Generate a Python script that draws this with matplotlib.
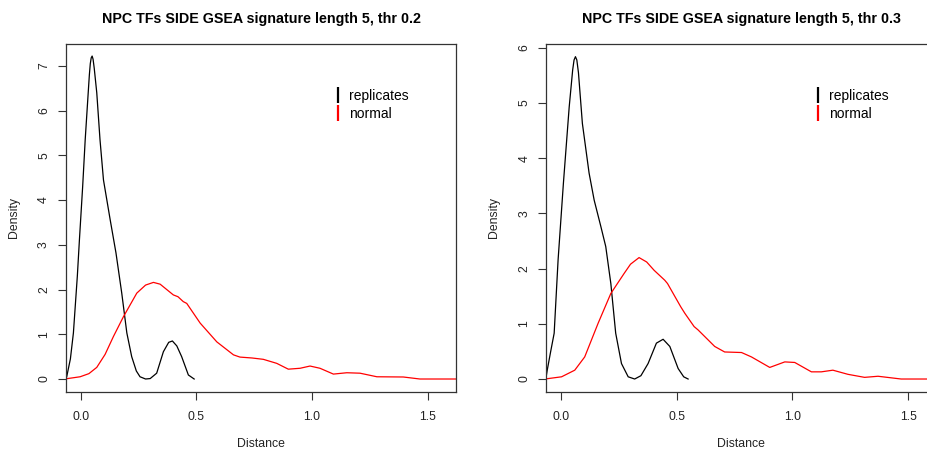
import matplotlib
matplotlib.use('Agg')
import matplotlib.pyplot as plt
from matplotlib.lines import Line2D

plt.rcParams['font.family'] = ['Liberation Sans', 'DejaVu Sans']

# 데이터 (그림에서 읽은 밀도 곡선 값)
titles = ['NPC TFs SIDE GSEA signature length 5, thr 0.2',
          'NPC TFs SIDE GSEA signature length 5, thr 0.3']
legend_labels = ['replicates', 'normal']

rep02_x = [-0.07, -0.061, -0.045, -0.032, -0.015, -0.006, 0.008, 0.019, 0.032, 0.037, 0.041,
           0.045, 0.049, 0.053, 0.058, 0.069, 0.083, 0.098, 0.127, 0.152, 0.177, 0.199, 0.22,
           0.24, 0.256, 0.28, 0.30, 0.328, 0.357, 0.38, 0.396, 0.415, 0.436,
           0.465, 0.49]
rep02_y = [-0.1, 0.05, 0.45, 1.03, 2.3, 3.11, 4.3, 5.35, 6.4, 6.8, 7.05,
           7.18, 7.22, 7.15, 6.95, 6.4, 5.35, 4.45, 3.56, 2.82, 1.92, 1.03, 0.5,
           0.18, 0.05, 0.0, 0.01, 0.13, 0.61, 0.82, 0.85, 0.74, 0.5,
           0.09, 0.0]

norm02_x = [-0.07, -0.003, 0.035, 0.069, 0.105, 0.141, 0.184, 0.242, 0.28, 0.314,
            0.343, 0.4, 0.42, 0.443, 0.458, 0.516, 0.588, 0.66, 0.688, 0.74,
            0.789, 0.847, 0.897, 0.948, 0.991, 1.034, 1.092, 1.15, 1.207, 1.28,
            1.394, 1.466, 1.63]
norm02_y = [0.0, 0.05, 0.12, 0.26, 0.55, 0.95, 1.39, 1.92, 2.1, 2.16,
            2.12, 1.88, 1.84, 1.73, 1.69, 1.25, 0.83, 0.54, 0.49, 0.47,
            0.44, 0.35, 0.22, 0.24, 0.29, 0.24, 0.11, 0.14, 0.13, 0.05,
            0.045, 0.0, 0.0]

rep03_x = [-0.07, -0.06, -0.045, -0.03, -0.013, 0.01, 0.035, 0.05, 0.056, 0.062, 0.068,
           0.075, 0.092, 0.121, 0.143, 0.172, 0.193, 0.215, 0.236, 0.261, 0.29, 0.318,
           0.345, 0.376, 0.412, 0.441, 0.47, 0.506, 0.53, 0.549]
rep03_y = [-0.1, 0.16, 0.5, 0.83, 2.16, 3.55, 4.93, 5.6, 5.78, 5.84, 5.78,
           5.55, 4.63, 3.73, 3.24, 2.76, 2.40, 1.73, 0.83, 0.28, 0.04, 0.0,
           0.06, 0.28, 0.65, 0.72, 0.59, 0.19, 0.04, 0.0]

norm03_x = [-0.07, 0.002, 0.059, 0.102, 0.16, 0.215, 0.272, 0.30, 0.337, 0.37,
            0.402, 0.448, 0.46, 0.517, 0.535, 0.575, 0.592, 0.664, 0.707, 0.78,
            0.823, 0.902, 0.967, 1.01, 1.082, 1.125, 1.175, 1.24, 1.312, 1.37,
            1.47, 1.63]
norm03_y = [0.0, 0.04, 0.16, 0.40, 1.01, 1.55, 1.91, 2.08, 2.2, 2.12,
            1.97, 1.79, 1.73, 1.31, 1.19, 0.95, 0.89, 0.59, 0.49, 0.48,
            0.40, 0.21, 0.31, 0.30, 0.13, 0.13, 0.16, 0.085, 0.03, 0.05,
            0.0, 0.0]

panels = [
    (titles[0], rep02_x, rep02_y, norm02_x, norm02_y, range(0, 8), (-0.284, 7.49)),
    (titles[1], rep03_x, rep03_y, norm03_x, norm03_y, range(0, 7), (-0.23, 6.07)),
]

fig = plt.figure(figsize=(9.28, 4.53), dpi=100)
positions = [[66 / 928, 0.1353, 390 / 928, 0.7676],
             [546.3 / 928, 0.1353, 390 / 928, 0.7676]]

for pos, (title, rx, ry, nx, ny, yticks, ylim) in zip(positions, panels):
    ax = fig.add_axes(pos)
    ax.plot(rx, ry, color='black', lw=0.9)
    ax.plot(nx, ny, color='red', lw=0.9)
    ax.set_xlim(-0.064, 1.622)
    ax.set_ylim(*ylim)
    ax.set_xticks([0.0, 0.5, 1.0, 1.5])
    ax.set_xticklabels(['0.0', '0.5', '1.0', '1.5'])
    ax.set_yticks(list(yticks))
    ax.set_yticklabels([str(v) for v in yticks], rotation=90, va='center')
    ax.tick_params(length=6, width=0.8, color='#333333', labelsize=8.8,
                   labelcolor='#222222')
    ax.tick_params(axis='x', pad=8)
    ax.tick_params(axis='y', pad=5.5)
    for sp in ax.spines.values():
        sp.set_color('#333333')
        sp.set_linewidth(0.9)
    ax.set_title(title, fontsize=10.3, fontweight='bold', pad=15)
    ax.set_xlabel('Distance', fontsize=8.8, labelpad=11, color='#222222')
    ax.set_ylabel('Density', fontsize=8.8, labelpad=13, color='#222222')
    handles = [Line2D([], [], color='black', marker='|', linestyle='None',
                      markersize=11, markeredgewidth=1.6),
               Line2D([], [], color='red', marker='|', linestyle='None',
                      markersize=11, markeredgewidth=1.6)]
    ax.legend(handles, legend_labels, loc='center left',
              bbox_to_anchor=(0.662, 0.825), frameon=False, fontsize=10,
              handlelength=1.0, handletextpad=0.3, labelspacing=0.25,
              borderpad=0.0)

plt.savefig('out.png', dpi=100)
